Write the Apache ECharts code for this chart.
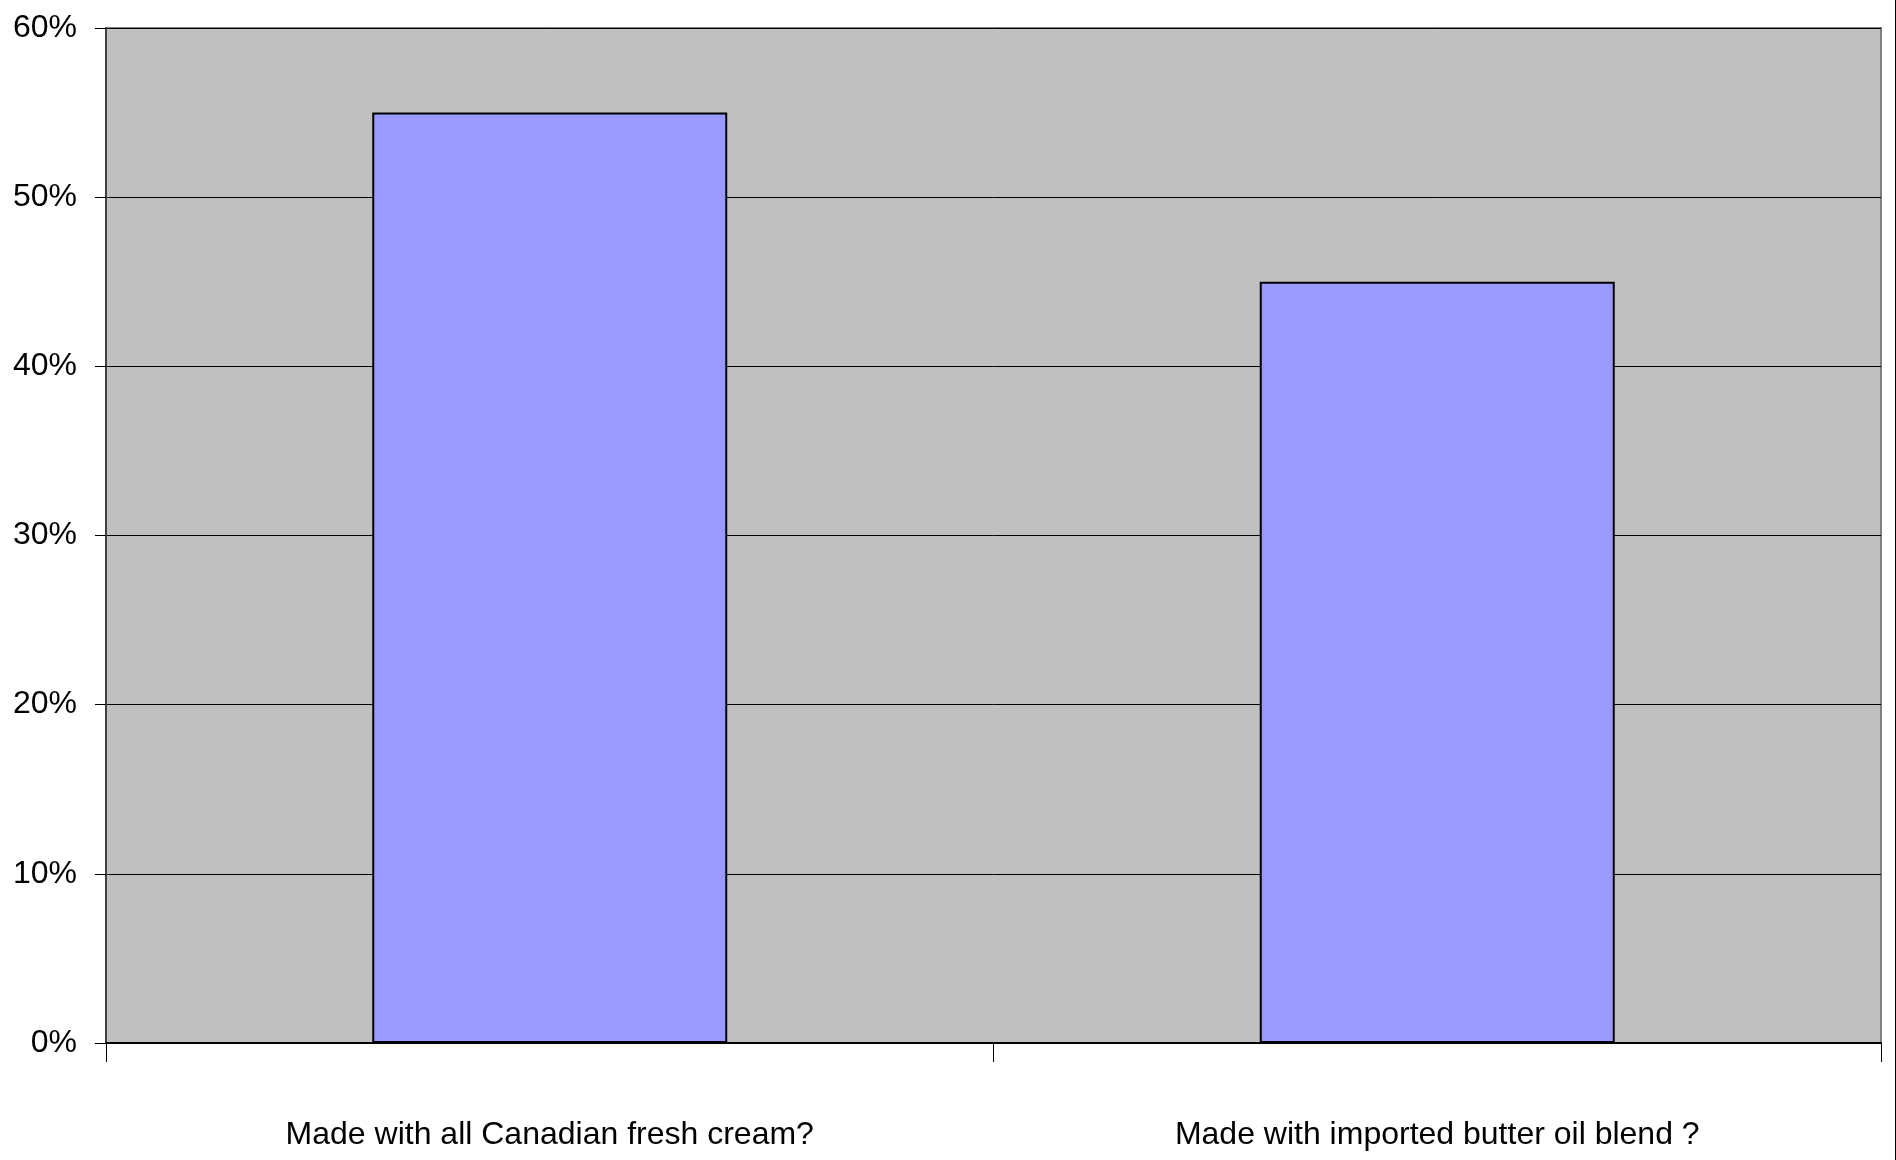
<!DOCTYPE html>
<html>
<head>
<meta charset="utf-8">
<script src="https://cdn.jsdelivr.net/npm/echarts@6/dist/echarts.min.js"></script>
<style>
  html, body { margin: 0; padding: 0; background: #fff; }
  #wrap { width: 1895px; height: 1160px; border-right: 1px solid #000; }
  #chart { width: 1895px; height: 1160px; }
</style>
</head>
<body>
<div id="wrap"><div id="chart"></div></div>
<script>
const categories = ['Made with all Canadian fresh cream?', 'Made with imported butter oil blend ?'];
const values = [55, 45];
const yTicks = [0, 10, 20, 30, 40, 50, 60];

const FONT = "'Liberation Sans', Arial, sans-serif";
const chart = echarts.init(document.getElementById('chart'), null, { renderer: 'canvas' });
chart.setOption({
  animation: false,
  backgroundColor: '#ffffff',
  grid: {
    left: 106, top: 28, right: 14, bottom: 117,
    containLabel: false, outerBoundsMode: 'none',
    show: true, backgroundColor: '#C0C0C0', borderColor: '#808080', borderWidth: 2
  },
  xAxis: {
    type: 'category',
    data: categories,
    axisLine: { lineStyle: { color: '#000', width: 2 } },
    axisTick: { show: true, length: 19, lineStyle: { color: '#000', width: 1 } },
    axisLabel: { color: '#000', fontFamily: FONT, fontSize: 32, margin: 76 },
    splitLine: { show: false }
  },
  yAxis: {
    type: 'value',
    min: yTicks[0], max: yTicks[yTicks.length - 1], interval: 10,
    axisLine: { show: true, lineStyle: { color: '#404040', width: 2 } },
    axisTick: { show: true, length: 11, lineStyle: { color: '#000', width: 1 } },
    axisLabel: { color: '#000', fontFamily: FONT, fontSize: 32, margin: 29, formatter: '{value}%' },
    splitLine: { show: true, lineStyle: { color: '#000', width: 1 } }
  },
  series: [{
    type: 'bar',
    data: values,
    barWidth: '40%',
    itemStyle: { color: '#9999FF', borderColor: '#000', borderWidth: 2 }
  }]
});
</script>
</body>
</html>
